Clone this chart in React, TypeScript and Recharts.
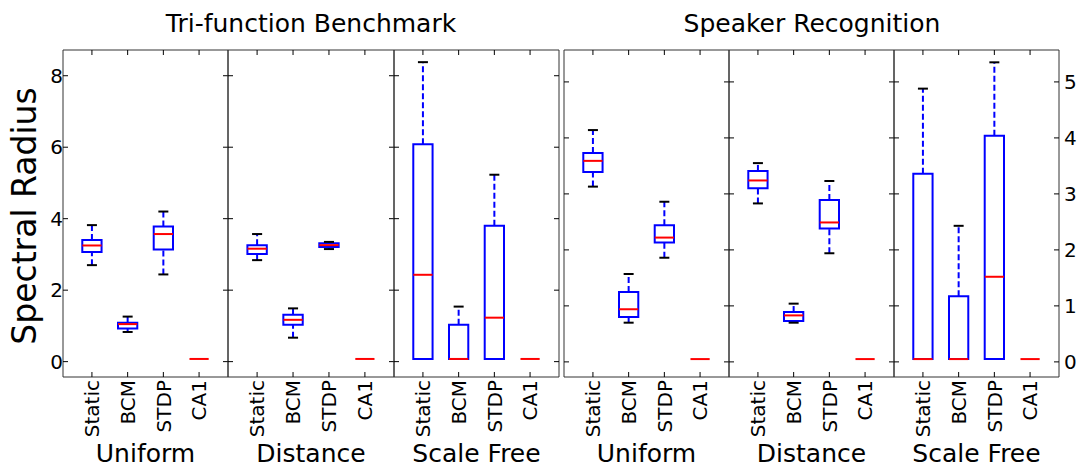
import { ComposedChart, XAxis, YAxis, ReferenceArea, ReferenceLine, Scatter } from 'recharts';

// ---- data: [low cap, q1, median, q3, high cap] per method
const categories = ['Static', 'BCM', 'STDP', 'CA1'];
const groupNames = ['Uniform', 'Distance', 'Scale Free'];
const titles = ['Tri-function Benchmark', 'Speaker Recognition'];

const triUniform = [
  [2.7, 3.07, 3.25, 3.4, 3.82],
  [0.83, 0.93, 1.05, 1.09, 1.26],
  [2.44, 3.14, 3.57, 3.78, 4.2],
  [0.075, 0.075, 0.075, 0.075, 0.075],
];
const triDistance = [
  [2.84, 3.01, 3.16, 3.26, 3.57],
  [0.67, 1.03, 1.17, 1.31, 1.49],
  [3.15, 3.21, 3.26, 3.31, 3.35],
  [0.075, 0.075, 0.075, 0.075, 0.075],
];
const triScaleFree = [
  [0.075, 0.075, 2.43, 6.08, 8.38],
  [0.075, 0.075, 0.075, 1.03, 1.54],
  [0.075, 0.075, 1.23, 3.8, 5.23],
  [0.075, 0.075, 0.075, 0.075, 0.075],
];
const spUniform = [
  [3.13, 3.39, 3.59, 3.73, 4.14],
  [0.7, 0.8, 0.94, 1.25, 1.57],
  [1.86, 2.13, 2.22, 2.44, 2.86],
  [0.05, 0.05, 0.05, 0.05, 0.05],
];
const spDistance = [
  [2.83, 3.1, 3.24, 3.41, 3.55],
  [0.7, 0.73, 0.83, 0.89, 1.04],
  [1.94, 2.38, 2.49, 2.89, 3.23],
  [0.05, 0.05, 0.05, 0.05, 0.05],
];
const spScaleFree = [
  [0.05, 0.05, 0.05, 3.36, 4.88],
  [0.05, 0.05, 0.05, 1.17, 2.43],
  [0.05, 0.05, 1.52, 4.04, 5.35],
  [0.05, 0.05, 0.05, 0.05, 0.05],
];

const triTicks = [0, 2, 4, 6, 8];
const spTicks = [0, 1, 2, 3, 4, 5];
const xTicks = [1, 2, 3, 4];

// ---- layout
const FONT = '"DejaVu Sans", sans-serif';
const PLOT_TOP = 50;
const PLOT_H = 327;
const AXL = 40;
const AXR = 22;
const AXT = 10;
const AXB = 80;
const X_DOMAIN = [0.19, 4.81];
const TRI_DOMAIN = [-0.43, 8.72];
const SP_DOMAIN = [-0.27, 5.57];
const BOX_HALF = 0.27;
const CAP_HALF = 0.14;
const MEDIAN_PX = 9.6;
const FRAME = '#333';

const panels = [
  { left: 63, right: 228, stats: triUniform, domain: TRI_DOMAIN, ticks: triTicks, labelLeft: true, labelRight: false },
  { left: 228, right: 394, stats: triDistance, domain: TRI_DOMAIN, ticks: triTicks, labelLeft: false, labelRight: false },
  { left: 394, right: 559, stats: triScaleFree, domain: TRI_DOMAIN, ticks: triTicks, labelLeft: false, labelRight: false },
  { left: 564, right: 729, stats: spUniform, domain: SP_DOMAIN, ticks: spTicks, labelLeft: false, labelRight: false },
  { left: 729, right: 894, stats: spDistance, domain: SP_DOMAIN, ticks: spTicks, labelLeft: false, labelRight: false },
  { left: 894, right: 1059, stats: spScaleFree, domain: SP_DOMAIN, ticks: spTicks, labelLeft: false, labelRight: true },
];

function EmptyTick() {
  return <g />;
}

// value labels pinned next to the frame line (px = x of the anchor inside the chart svg)
function ValueTick({ y, payload, px, anchor }: any) {
  return (
    <text x={px} y={y} dy="0.36em" textAnchor={anchor} fontSize={20} fontFamily={FONT} fill="#000">
      {payload.value}
    </text>
  );
}

function CategoryTick({ x, y, payload }: any) {
  return (
    <text
      x={x}
      y={y}
      transform={`rotate(-90 ${x} ${y})`}
      textAnchor="end"
      dy="0.36em"
      fontSize={20}
      fontFamily={FONT}
      fill="#000"
    >
      {categories[payload.value - 1]}
    </text>
  );
}

function MedianMark({ cx, cy }: any) {
  return <line x1={cx - MEDIAN_PX} x2={cx + MEDIAN_PX} y1={cy} y2={cy} stroke="#ff0000" strokeWidth={2} />;
}

function Panel({ left, right, stats, domain, ticks, labelLeft, labelRight }: any) {
  const w = right - left;
  const rows = stats.map((s: number[], i: number) => ({
    x: i + 1,
    low: s[0],
    q1: s[1],
    med: s[2],
    q3: s[3],
    high: s[4],
  }));

  return (
    <div style={{ position: 'absolute', left: left - AXL, top: PLOT_TOP - AXT }}>
      <ComposedChart
        width={AXL + w + AXR}
        height={AXT + PLOT_H + AXB}
        data={rows}
        margin={{ top: 0, right: 0, bottom: 0, left: 0 }}
      >
        <XAxis
          xAxisId="b"
          dataKey="x"
          type="number"
          domain={X_DOMAIN}
          allowDataOverflow
          ticks={xTicks}
          height={AXB}
          axisLine={{ stroke: FRAME }}
          tickLine={{ stroke: '#000' }}
          tickSize={-5}
          tickMargin={8}
          tick={<CategoryTick />}
          interval={0}
        />
        <XAxis
          xAxisId="t"
          orientation="top"
          dataKey="x"
          type="number"
          domain={X_DOMAIN}
          allowDataOverflow
          ticks={xTicks}
          height={AXT}
          axisLine={{ stroke: FRAME }}
          tickLine={{ stroke: '#000' }}
          tickSize={-5}
          tick={<EmptyTick />}
          interval={0}
        />
        <YAxis
          yAxisId="l"
          type="number"
          domain={domain}
          allowDataOverflow
          ticks={ticks}
          width={AXL}
          axisLine={{ stroke: FRAME }}
          tickLine={{ stroke: '#000' }}
          tickSize={-5}
          tick={labelLeft ? <ValueTick px={AXL} anchor="end" /> : <EmptyTick />}
          interval={0}
        />
        <YAxis
          yAxisId="r"
          orientation="right"
          type="number"
          domain={domain}
          allowDataOverflow
          ticks={ticks}
          width={AXR}
          axisLine={{ stroke: FRAME }}
          tickLine={{ stroke: '#000' }}
          tickSize={-5}
          tick={labelRight ? <ValueTick px={AXL + w + 5} anchor="start" /> : <EmptyTick />}
          interval={0}
        />

        {rows.map((r: any) => (
          <ReferenceArea
            key={`box-${r.x}`}
            xAxisId="b"
            yAxisId="l"
            x1={r.x - BOX_HALF}
            x2={r.x + BOX_HALF}
            y1={r.q1}
            y2={r.q3}
            fill="none"
            stroke="#0000ff"
            strokeWidth={2}
            ifOverflow="visible"
          />
        ))}
        {rows.map((r: any) =>
          r.high > r.q3 ? (
            <ReferenceLine
              key={`wu-${r.x}`}
              xAxisId="b"
              yAxisId="l"
              segment={[
                { x: r.x, y: r.q3 },
                { x: r.x, y: r.high },
              ]}
              stroke="#0000ff"
              strokeWidth={2}
              strokeDasharray="6 3"
              ifOverflow="visible"
            />
          ) : null
        )}
        {rows.map((r: any) =>
          r.low < r.q1 ? (
            <ReferenceLine
              key={`wl-${r.x}`}
              xAxisId="b"
              yAxisId="l"
              segment={[
                { x: r.x, y: r.low },
                { x: r.x, y: r.q1 },
              ]}
              stroke="#0000ff"
              strokeWidth={2}
              strokeDasharray="6 3"
              ifOverflow="visible"
            />
          ) : null
        )}
        {rows.map((r: any) =>
          r.high > r.q3 ? (
            <ReferenceLine
              key={`cu-${r.x}`}
              xAxisId="b"
              yAxisId="l"
              segment={[
                { x: r.x - CAP_HALF, y: r.high },
                { x: r.x + CAP_HALF, y: r.high },
              ]}
              stroke="#000"
              strokeWidth={2}
              ifOverflow="visible"
            />
          ) : null
        )}
        {rows.map((r: any) =>
          r.low < r.q1 ? (
            <ReferenceLine
              key={`cl-${r.x}`}
              xAxisId="b"
              yAxisId="l"
              segment={[
                { x: r.x - CAP_HALF, y: r.low },
                { x: r.x + CAP_HALF, y: r.low },
              ]}
              stroke="#000"
              strokeWidth={2}
              ifOverflow="visible"
            />
          ) : null
        )}
        <Scatter
          xAxisId="b"
          yAxisId="l"
          dataKey="med"
          shape={<MedianMark />}
          isAnimationActive={false}
        />
      </ComposedChart>
    </div>
  );
}

export default function App() {
  return (
    <div
      style={{
        position: 'absolute',
        left: 0,
        top: 0,
        width: 1082,
        height: 467,
        overflow: 'hidden',
        background: '#fff',
        fontFamily: FONT,
      }}
    >
      {panels.map((p, i) => (
        <Panel key={i} {...p} />
      ))}
      <svg
        width={1082}
        height={467}
        style={{ position: 'absolute', left: 0, top: 0, pointerEvents: 'none' }}
      >
        <text x={311} y={32} textAnchor="middle" fontSize={25} fontFamily={FONT} fill="#000">
          {titles[0]}
        </text>
        <text x={812} y={32} textAnchor="middle" fontSize={25} fontFamily={FONT} fill="#000">
          {titles[1]}
        </text>
        <text
          x={36}
          y={216}
          transform="rotate(-90 36 216)"
          textAnchor="middle"
          fontSize={33}
          fontFamily={FONT}
          fill="#000"
        >
          Spectral Radius
        </text>
        {panels.map((p, i) => (
          <text
            key={i}
            x={(p.left + p.right) / 2}
            y={462}
            textAnchor="middle"
            fontSize={25}
            fontFamily={FONT}
            fill="#000"
          >
            {groupNames[i % 3]}
          </text>
        ))}
      </svg>
    </div>
  );
}
